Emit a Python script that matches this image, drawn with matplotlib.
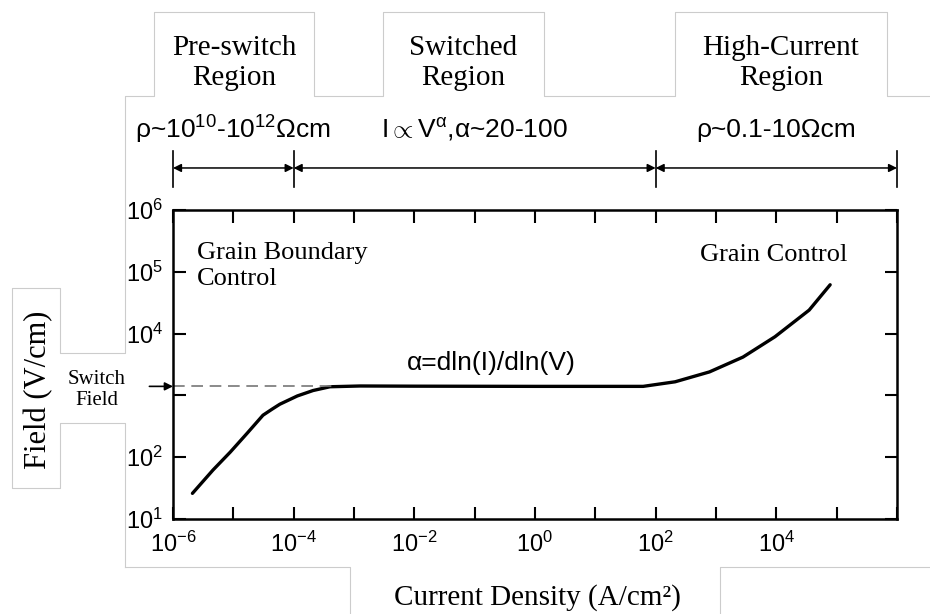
import numpy as np
import matplotlib
matplotlib.use("Agg")
import matplotlib.pyplot as plt
from matplotlib.lines import Line2D
from matplotlib.transforms import blended_transform_factory

plt.rcParams['font.family'] = ['Liberation Sans', 'DejaVu Sans']
plt.rcParams['mathtext.fontset'] = 'custom'
plt.rcParams['mathtext.rm'] = 'Liberation Sans'
plt.rcParams['mathtext.it'] = 'Liberation Sans'
plt.rcParams['axes.unicode_minus'] = False

# curve: current density (A/cm2) vs field (V/cm)
current = [2.1e-6, 4.6e-6, 8.9e-6, 1.7e-5, 3.1e-5, 4.4e-5, 5.9e-5, 1.15e-4, 2.1e-4, 4.0e-4,
           1.26e-3, 1e-2, 1e0, 6.2e1, 2.1e2, 7.8e2, 2.8e3, 9.5e3, 3.5e4, 7.8e4]
field = [26, 62, 121, 245, 478, 600, 720, 980, 1200, 1380,
         1420, 1410, 1400, 1400, 1660, 2400, 4170, 8900, 24000, 61700]
switch_field = 1400

xticks = [1e-6, 1e-5, 1e-4, 1e-3, 1e-2, 1e-1, 1e0, 1e1, 1e2, 1e3, 1e4, 1e5, 1e6]
xtick_labels = ['$\\mathregular{10^{-6}}$', '', '$\\mathregular{10^{-4}}$', '',
                '$\\mathregular{10^{-2}}$', '', '$\\mathregular{10^{0}}$', '',
                '$\\mathregular{10^{2}}$', '', '$\\mathregular{10^{4}}$', '', '']
yticks = [1e1, 1e2, 1e3, 1e4, 1e5, 1e6]
ytick_labels = ['$\\mathregular{10^{1}}$', '$\\mathregular{10^{2}}$', '',
                '$\\mathregular{10^{4}}$', '$\\mathregular{10^{5}}$', '$\\mathregular{10^{6}}$']

# region boundaries (current density) and labels
bounds = [1e-6, 1e-4, 1e2, 1e6]
res_labels = ['ρ~$\\mathregular{10^{10}}$-$\\mathregular{10^{12}}$Ωcm',
              'I$\\propto$V$^{\\mathregular{α}}$,α~20-100',
              'ρ~0.1-10Ωcm']
region_names = ['Pre-switch\nRegion', 'Switched\nRegion', 'High-Current\nRegion']

W, H = 930, 614
fig = plt.figure(figsize=(9.3, 6.14), dpi=100)
ax = fig.add_axes([173 / W, 1 - 519 / H, 724 / W, 309 / H])

ax.plot(current, field, color='black', lw=2.4, solid_capstyle='round',
        solid_joinstyle='round')
ax.plot([1e-6, 5e-4], [switch_field, switch_field], color='#777777', lw=1.2,
        linestyle=(0, (7, 4)))

ax.set_xscale('log')
ax.set_yscale('log')
ax.set_xlim(1e-6, 1e6)
ax.set_ylim(10, 1e6)
ax.set_xticks(xticks)
ax.set_xticklabels(xtick_labels)
ax.set_yticks(yticks)
ax.set_yticklabels(ytick_labels)
ax.minorticks_off()
ax.tick_params(direction='in', length=9, width=1.5, top=True, right=True,
               labelsize=17)
ax.tick_params(axis='x', pad=9)
ax.tick_params(axis='y', pad=7)
for s in ax.spines.values():
    s.set_linewidth(1.8)

# switch field arrow
ax.annotate('', xy=(1e-6, switch_field), xytext=(-17, 0), textcoords='offset points',
            arrowprops=dict(arrowstyle='-|>', color='black', lw=1.2, mutation_scale=12,
                            shrinkA=0, shrinkB=0),
            annotation_clip=False)

# dimension arrows above the plot
trans = blended_transform_factory(ax.transData, ax.transAxes)
for b in bounds:
    ax.plot([b, b], [1.074, 1.191], transform=trans, clip_on=False, color='black', lw=1.2)
for a, b, lab in zip(bounds[:-1], bounds[1:], res_labels):
    ax.annotate('', xy=(b, 1.136), xytext=(a, 1.136), xycoords=trans, textcoords=trans,
                arrowprops=dict(arrowstyle='<|-|>', color='black', lw=1.1,
                                mutation_scale=12, shrinkA=0, shrinkB=0),
                annotation_clip=False)
    mid = np.sqrt(a * b)
    ax.text(mid, 1.259, lab, transform=trans, ha='center', va='center', fontsize=19)

serif = ['Liberation Serif', 'DejaVu Serif']
ax.text(0.033, 0.895, 'Grain Boundary\nControl', transform=ax.transAxes, ha='left',
        va='top', fontsize=19, family=serif, linespacing=1.2)
ax.text(0.932, 0.854, 'Grain Control', transform=ax.transAxes, ha='right',
        va='center', fontsize=19, family=serif)
ax.text(0.44, 0.505, 'α=dln(I)/dln(V)', transform=ax.transAxes, ha='center',
        va='center', fontsize=19)

# overlay labels
for name, (x0, x1) in zip(region_names, [(154, 314), (383, 544), (675, 887)]):
    fig.text((x0 + x1) / 2 / W, 1 - 63 / H, name, ha='center', va='center',
             fontsize=21, family=serif, linespacing=1.2)
fig.text(39 / W, 1 - 390 / H, 'Field (V/cm)', rotation=90, ha='center', va='center',
         fontsize=22, family=serif)
fig.text(97 / W, 1 - 390 / H, 'Switch\nField', ha='center', va='center',
         fontsize=15, family=serif, linespacing=1.2)
fig.text(537 / W, 1 - 598 / H, 'Current Density (A/cm²)', ha='center', va='center',
         fontsize=21, family=serif)

# thin outlines of the pasted label boxes
outlines = [
    [(125, 567), (125, 423), (60, 423), (60, 488), (12, 488), (12, 288), (60, 288),
     (60, 353), (125, 353), (125, 96), (154, 96), (154, 12), (314, 12), (314, 96),
     (383, 96), (383, 12), (544, 12), (544, 96), (675, 96), (675, 12), (887, 12),
     (887, 96), (930, 96)],
    [(125, 567), (350, 567), (350, 614)],
    [(720, 614), (720, 567), (930, 567)],
]
for poly in outlines:
    xs = [p[0] / W for p in poly]
    ys = [1 - p[1] / H for p in poly]
    fig.add_artist(Line2D(xs, ys, color='#cccccc', lw=0.8))

fig.savefig('out.png', dpi=100)
